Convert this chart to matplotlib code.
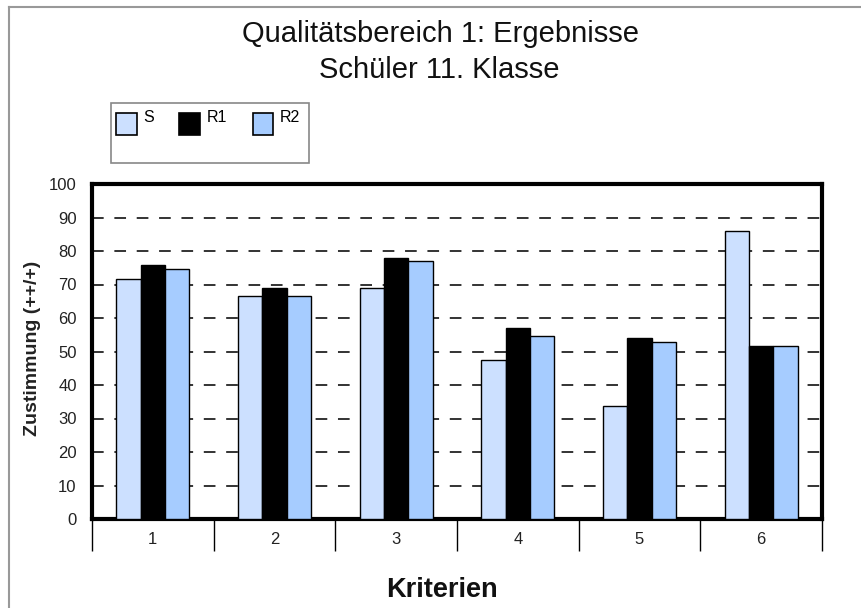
import numpy as np
import matplotlib
matplotlib.use('Agg')
from matplotlib import pyplot as plt
from matplotlib.patches import Patch, Rectangle
from matplotlib.lines import Line2D

plt.rcParams['font.family'] = ['Liberation Sans', 'DejaVu Sans']

# data
kriterien = ['1', '2', '3', '4', '5', '6']
s_vals = [71.7, 66.5, 68.9, 47.6, 33.8, 85.9]
r1_vals = [75.7, 69.0, 78.0, 56.9, 54.0, 51.6]
r2_vals = [74.5, 66.5, 76.9, 54.5, 52.7, 51.6]
series = ['S', 'R1', 'R2']
colors = ['#CCE0FF', '#000000', '#A6CCFF']

W, H = 861, 608
fig = plt.figure(figsize=(W / 100, H / 100), dpi=100)
ax = fig.add_axes([92 / W, 1 - 519 / H, (822 - 92) / W, (519 - 184) / H])

x = np.arange(len(kriterien))
w = 0.2
for i, (vals, c) in enumerate(zip([s_vals, r1_vals, r2_vals], colors)):
    ax.bar(x + (i - 1) * w, vals, w, color=c, edgecolor='black', linewidth=1, zorder=3)

ax.set_xlim(-0.5, len(kriterien) - 0.5)
ax.set_ylim(0, 100)
ax.set_yticks(range(0, 101, 10))
ax.tick_params(axis='y', length=0, pad=11, labelsize=12, labelcolor='#222222')
for yv in range(10, 100, 10):
    ax.axhline(yv, color='#333333', linestyle=(0, (6, 5.5)), linewidth=1.4, zorder=1)

# category boundaries as ticks, labels between them
ax.set_xticks(np.arange(-0.5, len(kriterien), 1))
ax.set_xticklabels([])
ax.set_xticks(x, minor=True)
ax.set_xticklabels(kriterien, minor=True)
ax.tick_params(axis='x', which='major', length=23, width=1, direction='out', color='black')
ax.tick_params(axis='x', which='minor', length=0, pad=9, labelsize=12, labelcolor='#222222')

for sp in ax.spines.values():
    sp.set_linewidth(3)
    sp.set_color('black')

fig.text(33 / W, 1 - 348 / H, 'Zustimmung (++/+)', rotation=90, ha='center', va='center',
         fontsize=14, fontweight='bold', color='#222222')
fig.text(442 / W, 1 - 597 / H, 'Kriterien', ha='center', va='baseline',
         fontsize=19.5, fontweight='bold', color='#111111')

fig.text(441 / W, 1 - 42 / H, 'Qualitätsbereich 1: Ergebnisse', ha='center', va='baseline',
         fontsize=21, color='#111111')
fig.text(439 / W, 1 - 78 / H, 'Schüler 11. Klasse', ha='center', va='baseline',
         fontsize=21, color='#111111')

# legend box
fig.patches.append(Rectangle((111 / W, 1 - 163 / H), (309 - 111) / W, (163 - 103) / H,
                             transform=fig.transFigure, facecolor='white', edgecolor='#888888',
                             linewidth=1.2))
handles = [Patch(facecolor=c, edgecolor='black', linewidth=1.2, label=s) for s, c in zip(series, colors)]
leg = fig.legend(handles=handles, ncol=3, loc='upper left', bbox_to_anchor=(116 / W, 1 - 113 / H),
                 frameon=False, fontsize=11.5, handlelength=1.3, handleheight=1.7,
                 handletextpad=0.4, columnspacing=1.6, borderpad=0, borderaxespad=0)
# labels sit at the top of the keys
for t in leg.get_texts():
    t.set_y(7)

# outer frame of the chart
fig.add_artist(Line2D([9 / W, 9 / W], [0, 1 - 7 / H], color='#999999', linewidth=1.5))
fig.add_artist(Line2D([9 / W, 1], [1 - 7 / H, 1 - 7 / H], color='#999999', linewidth=1.5))

fig.savefig('out.png', dpi=100)
